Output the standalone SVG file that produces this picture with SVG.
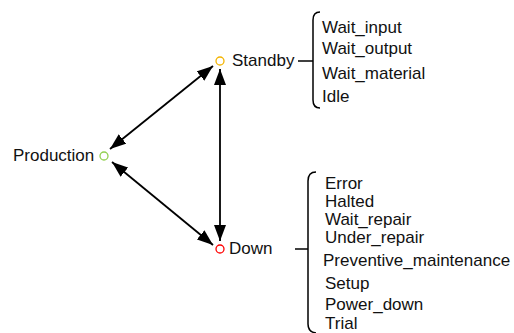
<svg xmlns="http://www.w3.org/2000/svg" width="514" height="333" viewBox="0 0 514 333">
<style>
text{font-family:"Liberation Sans",Arial,sans-serif;font-size:17px;fill:#111}
.st{fill:none;stroke-width:1.3}
.ln{stroke:#000;stroke-width:1.8;fill:none}
.br{stroke:#000;stroke-width:1.5;fill:none}
</style>
<defs>
<marker id="ah" markerUnits="userSpaceOnUse" markerWidth="17" markerHeight="13" refX="16" refY="6" orient="auto-start-reverse" viewBox="0 0 17 13">
<path d="M0,0 L16,6 L0,12 z" fill="#000"/>
</marker>
</defs>
<g id="connectors">
<line class="ln" x1="213" y1="66" x2="110" y2="149" marker-start="url(#ah)" marker-end="url(#ah)"/>
<line class="ln" x1="220" y1="69" x2="220" y2="241" marker-start="url(#ah)" marker-end="url(#ah)"/>
<line class="ln" x1="112" y1="162" x2="213" y2="245" marker-start="url(#ah)" marker-end="url(#ah)"/>
</g>
<g id="production">
<circle class="st" cx="104" cy="156" r="4" stroke="#92d050"/>
<text x="13" y="161">Production</text>
</g>
<g id="standby">
<circle class="st" cx="220" cy="61" r="4" stroke="#f4b400"/>
<text x="232" y="66">Standby</text>
<path class="br" d="M298,61 H313"/>
<path class="br" d="M320,12 Q313,12 313,20 V100 Q313,108 320,108"/>
<text x="322" y="33">Wait_input</text>
<text x="322" y="54">Wait_output</text>
<text x="322" y="79">Wait_material</text>
<text x="322" y="102">Idle</text>
</g>
<g id="down">
<circle class="st" cx="220" cy="249" r="4" stroke="#ff0000"/>
<text x="229" y="254">Down</text>
<path class="br" d="M295,249 H308"/>
<path class="br" d="M316,172 Q308,172 308,181 V324 Q308,332 316,333"/>
<text x="325" y="189">Error</text>
<text x="325" y="207">Halted</text>
<text x="325" y="225">Wait_repair</text>
<text x="325" y="243">Under_repair</text>
<text x="323" y="266">Preventive_maintenance</text>
<text x="325" y="289">Setup</text>
<text x="325" y="310">Power_down</text>
<text x="325" y="329">Trial</text>
</g>
</svg>
